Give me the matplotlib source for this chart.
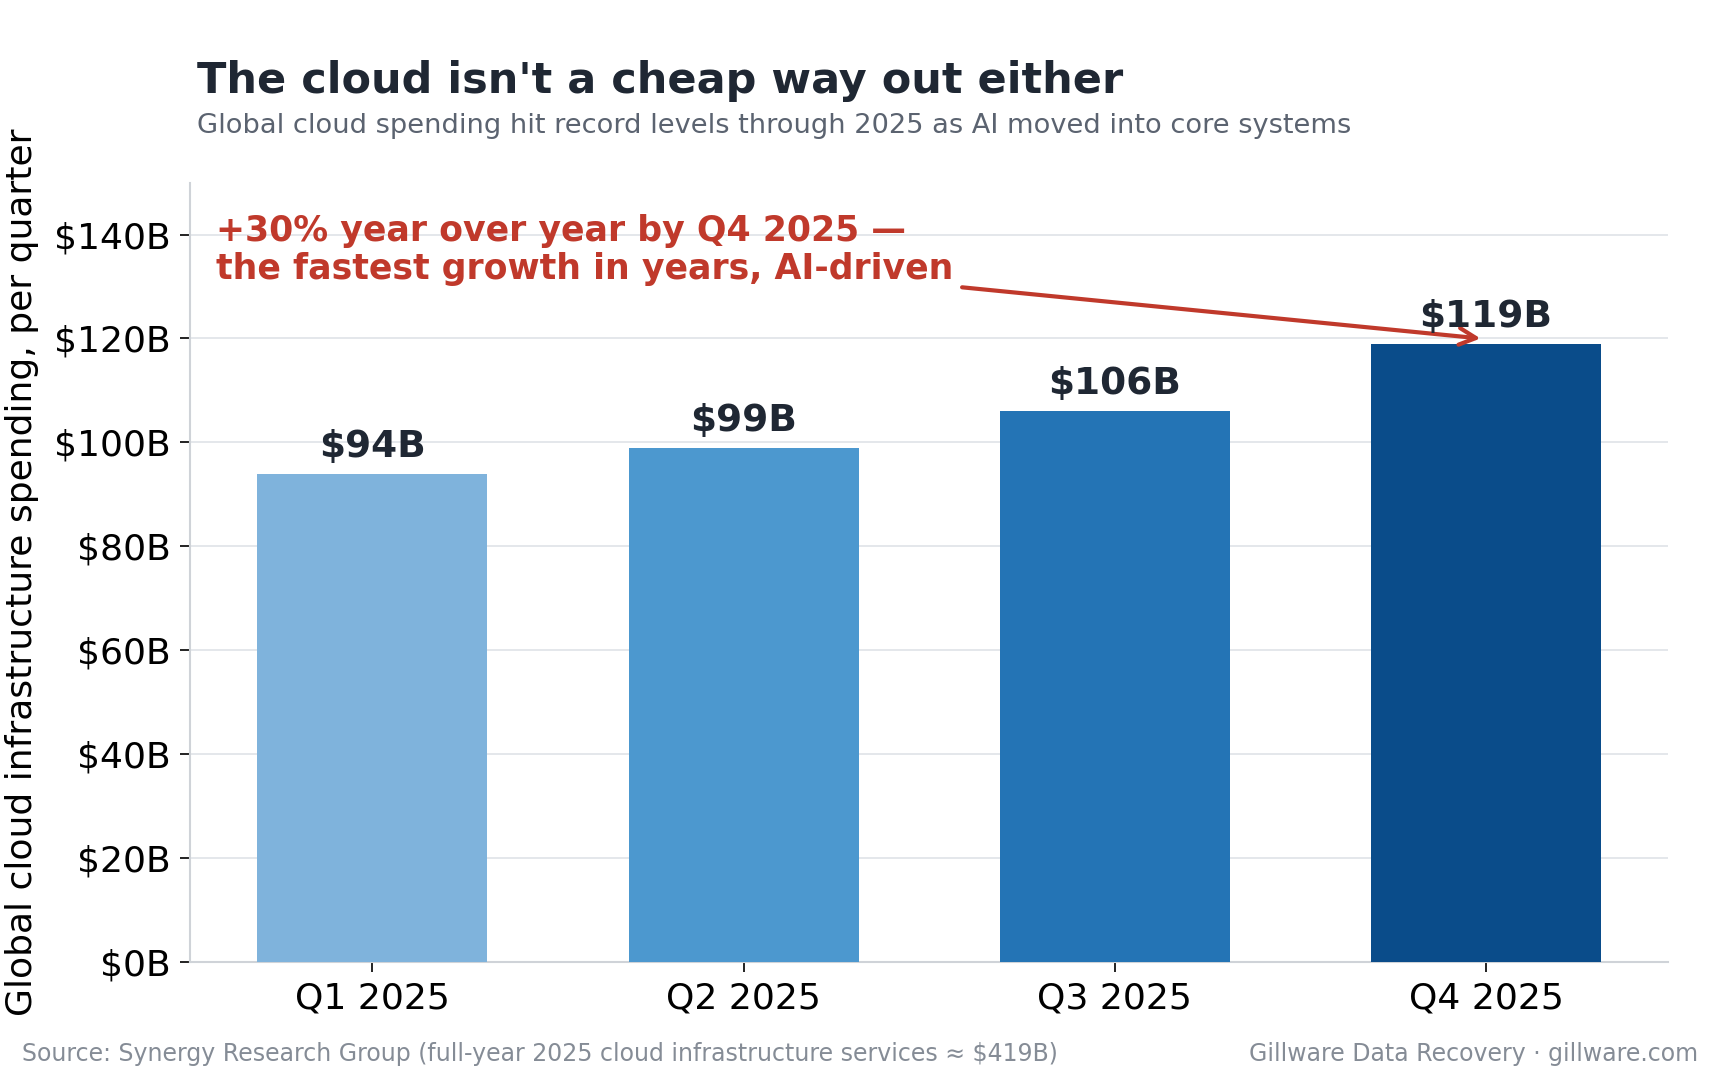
import matplotlib
matplotlib.use("Agg")
import matplotlib.pyplot as plt

# quarterly spend, $B
quarters = ["Q1 2025", "Q2 2025", "Q3 2025", "Q4 2025"]
spend = [94, 99, 106, 119]
bar_colors = ["#7fb3dc", "#4c98cf", "#2474b5", "#0a4c8a"]
y_ticks = [0, 20, 40, 60, 80, 100, 120, 140]

title = "The cloud isn't a cheap way out either"
subtitle = "Global cloud spending hit record levels through 2025 as AI moved into core systems"
note = "+30% year over year by Q4 2025 \u2014\nthe fastest growth in years, AI-driven"
source = "Source: Synergy Research Group (full-year 2025 cloud infrastructure services \u2248 $419B)"
credit = "Gillware Data Recovery \u00b7 gillware.com"

DARK = "#1f2733"
RED = "#c0392b"

fig = plt.figure(figsize=(17.2, 10.8), dpi=100)
ax = fig.add_axes([0.1105, 0.109, 0.8595, 0.722])

x = list(range(len(quarters)))
ax.bar(x, spend, width=0.62, color=bar_colors, zorder=3)

for xi, v in zip(x, spend):
    ax.text(xi, v + 1.7, f"${v}B", ha="center", va="bottom",
            fontsize=27, fontweight="bold", color=DARK, zorder=4)

ax.set_ylim(0, 150)
ax.set_yticks(y_ticks)
ax.set_yticklabels([f"${t}B" for t in y_ticks])
ax.set_xticks(x)
ax.set_xticklabels(quarters)
ax.tick_params(axis="both", labelsize=26, length=7, width=1.4, pad=7, color="#222222")
ax.grid(axis="y", color="#dfe3e8", linewidth=1.2, zorder=0)
ax.set_axisbelow(True)

for side in ["top", "right"]:
    ax.spines[side].set_visible(False)
for side in ["left", "bottom"]:
    ax.spines[side].set_color("#cfd3d8")
    ax.spines[side].set_linewidth(1.5)

ax.set_ylabel("Global cloud infrastructure spending, per quarter", fontsize=26)
ax.yaxis.set_label_coords(-0.1024, 0.5)

ax.annotate(note, xy=(2.985, 120), xytext=(-0.42, 137),
            ha="left", va="center", fontsize=25, fontweight="bold", color=RED,
            linespacing=1.15,
            arrowprops=dict(arrowstyle="->", color=RED, lw=3, mutation_scale=30,
                            shrinkA=4, shrinkB=0))

fig.text(0.1147, 0.925, title, fontsize=31, fontweight="bold", color=DARK, va="center")
fig.text(0.1147, 0.883, subtitle, fontsize=19.6, color="#5b6370", va="center")
fig.text(0.0128, 0.024, source, fontsize=17, color="#858c96", va="center")
fig.text(0.987, 0.024, credit, fontsize=17, color="#858c96", va="center", ha="right")

fig.savefig("out.png", dpi=100, facecolor="white")
